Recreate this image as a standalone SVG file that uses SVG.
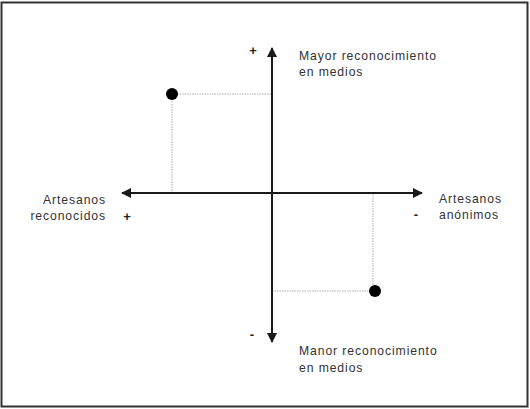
<svg xmlns="http://www.w3.org/2000/svg" width="530" height="409" viewBox="0 0 530 409">
<style>
.t{font-family:"Liberation Sans",Arial,sans-serif;font-size:12.2px;fill:#333;letter-spacing:0.9px}
.s{font-family:"Liberation Sans",Arial,sans-serif;font-size:13px;fill:#222;font-weight:bold}
.axis{stroke:#1a1a1a;stroke-width:2;fill:none}
.guide{stroke:#c8c8c8;stroke-width:1.5;stroke-dasharray:1.5 1;fill:none}
.dot{fill:#000}
</style>
<defs>
<marker id="ah" viewBox="0 0 10 10" refX="9" refY="5" markerWidth="5" markerHeight="5" orient="auto" markerUnits="strokeWidth">
<path d="M0,0 L10,5 L0,10 Z" fill="#1a1a1a"/>
</marker>
</defs>
<rect x="1.5" y="2.5" width="526" height="404" fill="#fff" stroke="#333" stroke-width="2"/>
<g id="guides">
<path class="guide" d="M172,94 H272 M172,94 V193"/>
<path class="guide" d="M373,193 V291 M272,291 H375"/>
</g>
<g id="connectors">
<line class="axis" x1="272" y1="193" x2="272" y2="48" marker-end="url(#ah)"/>
<line class="axis" x1="272" y1="193" x2="272" y2="342" marker-end="url(#ah)"/>
<line class="axis" x1="272" y1="193" x2="122" y2="193" marker-end="url(#ah)"/>
<line class="axis" x1="272" y1="193" x2="422" y2="193" marker-end="url(#ah)"/>
</g>
<g id="point1"><circle class="dot" cx="172" cy="94" r="6"/></g>
<g id="point2"><circle class="dot" cx="375" cy="291" r="6"/></g>
<g id="top-label">
<text class="s" x="253" y="55" text-anchor="middle">+</text>
<text class="t" x="299" y="60">Mayor reconocimiento</text>
<text class="t" x="299" y="76">en medios</text>
</g>
<g id="left-label">
<text class="t" x="106" y="204" text-anchor="end">Artesanos</text>
<text class="t" x="106" y="220" text-anchor="end">reconocidos</text>
<text class="s" x="127" y="221" text-anchor="middle">+</text>
</g>
<g id="right-label">
<text class="t" x="439" y="203">Artesanos</text>
<text class="t" x="439" y="219">anónimos</text>
<text class="s" x="416" y="219" text-anchor="middle">-</text>
</g>
<g id="bottom-label">
<text class="s" x="252" y="339" text-anchor="middle">-</text>
<text class="t" x="299" y="355">Manor reconocimiento</text>
<text class="t" x="299" y="372">en medios</text>
</g>
</svg>
